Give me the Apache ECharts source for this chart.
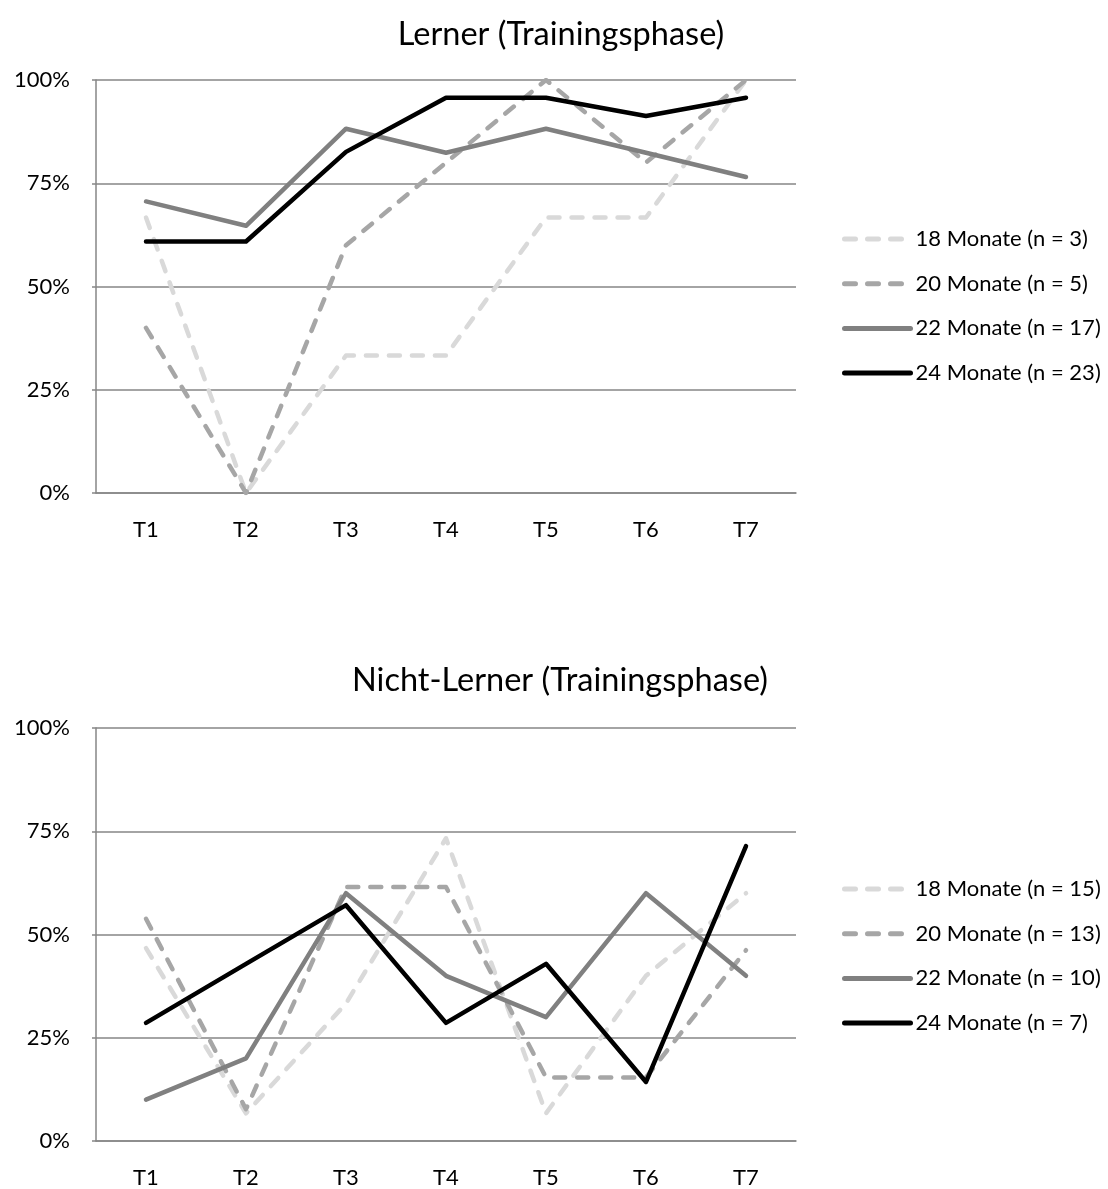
<!DOCTYPE html>
<html>
<head>
<meta charset="utf-8">
<script src="https://cdn.jsdelivr.net/npm/echarts@6/dist/echarts.min.js"></script>
<style>
  html, body { margin: 0; padding: 0; background: #ffffff; }
  #chart { width: 1108px; height: 1189px; }
</style>
</head>
<body>
<div id="chart"></div>
<script>
// Messzeitpunkte
const categories = ['T1', 'T2', 'T3', 'T4', 'T5', 'T6', 'T7'];
const yTicks = [0, 25, 50, 75, 100];

// Lerner (Trainingsphase), Anteil in %
const lernerNames = ['18 Monate (n = 3)', '20 Monate (n = 5)', '22 Monate (n = 17)', '24 Monate (n = 23)'];
const lerner18 = [66.7, 0, 33.3, 33.3, 66.7, 66.7, 100];
const lerner20 = [40, 0, 60, 80, 100, 80, 100];
const lerner22 = [70.6, 64.7, 88.2, 82.4, 88.2, 82.4, 76.5];
const lerner24 = [60.9, 60.9, 82.6, 95.7, 95.7, 91.3, 95.7];

// Nicht-Lerner (Trainingsphase), Anteil in %
const nichtNames = ['18 Monate (n = 15)', '20 Monate (n = 13)', '22 Monate (n = 10)', '24 Monate (n = 7)'];
const nicht18 = [46.7, 6.7, 33.3, 73.3, 6.7, 40, 60];
const nicht20 = [53.8, 7.7, 61.5, 61.5, 15.4, 15.4, 46.2];
const nicht22 = [10, 20, 60, 40, 30, 60, 40];
const nicht24 = [28.6, 42.9, 57.1, 28.6, 42.9, 14.3, 71.4];

const FONT = 'Lato, "Noto Sans", sans-serif';
const GRID_GRAY = '#868686';

// Linienstile je Altersgruppe
const styles = [
  { color: '#d9d9d9', type: [11, 12] },
  { color: '#a6a6a6', type: [11, 12] },
  { color: '#808080', type: 'solid' },
  { color: '#000000', type: 'solid' }
];

function makeSeries(names, sets, idx) {
  return sets.map((d, i) => ({
    name: names[i],
    type: 'line',
    xAxisIndex: idx,
    yAxisIndex: idx,
    data: d,
    symbol: 'none',
    showSymbol: false,
    animation: false,
    itemStyle: { color: styles[i].color },
    lineStyle: {
      color: styles[i].color,
      width: 4.5,
      type: styles[i].type,
      cap: 'round',
      join: 'round'
    },
    emphasis: { disabled: true }
  }));
}

function xAxis(idx) {
  return {
    type: 'category',
    gridIndex: idx,
    data: categories,
    boundaryGap: true,
    axisLine: { show: true, lineStyle: { color: GRID_GRAY, width: 1.5 } },
    axisTick: { show: false },
    axisLabel: { color: '#000', fontFamily: FONT, fontSize: 22, margin: 26 }
  };
}

function yAxis(idx) {
  return {
    type: 'value',
    gridIndex: idx,
    min: yTicks[0],
    max: yTicks[yTicks.length - 1],
    interval: 25,
    axisLine: { show: true, lineStyle: { color: GRID_GRAY, width: 1.5 } },
    axisTick: { show: true, length: 4, lineStyle: { color: GRID_GRAY, width: 1.5 } },
    splitLine: { show: true, lineStyle: { color: GRID_GRAY, width: 1.5 } },
    axisLabel: { color: '#000', fontFamily: FONT, fontSize: 22, margin: 26, formatter: '{value}%' }
  };
}

function legend(names, top) {
  return {
    orient: 'vertical',
    left: 837,
    top: top,
    itemWidth: 66,
    itemHeight: 14,
    itemGap: 22.7,
    data: names,
    itemStyle: { opacity: 0 },
    lineStyle: { width: 5, cap: 'round' },
    textStyle: { color: '#000', fontFamily: FONT, fontSize: 22, lineHeight: 22 },
    selectedMode: false
  };
}

const chart = echarts.init(document.getElementById('chart'), null, { renderer: 'canvas' });
chart.setOption({
  backgroundColor: '#ffffff',
  animation: false,
  title: [
    { text: 'Lerner (Trainingsphase)', left: 556, top: 13, textAlign: 'center',
      textStyle: { fontFamily: FONT, fontSize: 32.5, fontWeight: 'normal', color: '#000' } },
    { text: 'Nicht-Lerner (Trainingsphase)', left: 555, top: 659, textAlign: 'center',
      textStyle: { fontFamily: FONT, fontSize: 32.5, fontWeight: 'normal', color: '#000' } }
  ],
  legend: [legend(lernerNames, 223), legend(nichtNames, 873)],
  grid: [
    { left: 96, top: 80, width: 700, height: 413 },
    { left: 96, top: 728, width: 700, height: 413 }
  ],
  xAxis: [xAxis(0), xAxis(1)],
  yAxis: [yAxis(0), yAxis(1)],
  series: [
    ...makeSeries(lernerNames, [lerner18, lerner20, lerner22, lerner24], 0),
    ...makeSeries(nichtNames, [nicht18, nicht20, nicht22, nicht24], 1)
  ]
});
</script>
</body>
</html>
